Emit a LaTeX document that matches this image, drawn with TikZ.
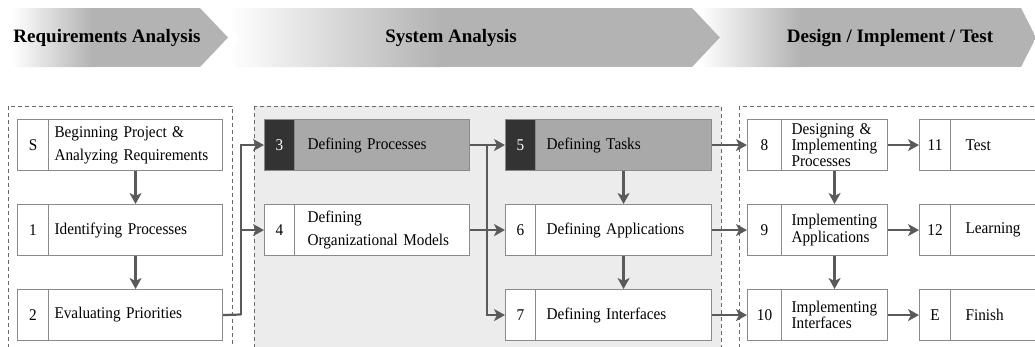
\documentclass[tikz,border=0pt]{standalone}
\usepackage{fontspec}
\setmainfont{Liberation Serif}
\newfontfamily\cellfont[FakeStretch=0.93]{Liberation Serif}
\usetikzlibrary{arrows.meta}

\definecolor{bannergray}{HTML}{B3B3B3}
\definecolor{panelgray}{HTML}{ECECEC}
\definecolor{panelline}{HTML}{6A6A6A}
\definecolor{edgegray}{HTML}{8A8A8A}
\definecolor{linkgray}{HTML}{5A5A5A}
\definecolor{hilite}{HTML}{A9A9A9}
\definecolor{darkcell}{HTML}{333333}

\tikzset{
  banner/.style={font=\fontsize{19}{22}\selectfont\bfseries, inner sep=0pt},
  panel/.style={draw=panelline, line width=1pt, dash pattern=on 4pt off 3pt},
  cell/.style={draw=edgegray, line width=1.1pt, fill=white, minimum height=51pt,
    anchor=north west, inner ysep=0pt, font=\cellfont\fontsize{16.4}{22.7}\selectfont},
  numcell/.style={cell, align=center, inner xsep=0pt, minimum width=#1},
  % text cells of the five columns
  colA/.style={cell, align=left, minimum width=174pt, text width=162pt, inner xsep=6pt},
  colB/.style={cell, align=left, minimum width=175pt, text width=149pt, inner xsep=13pt},
  colC/.style={cell, align=left, minimum width=176pt, text width=154pt, inner xsep=11pt},
  colD/.style={cell, align=left, minimum width=106pt, text width=86pt, inner xsep=10pt,
    font=\cellfont\fontsize{16.4}{16.3}\selectfont},
  colE/.style={cell, align=left, minimum width=110pt, text width=80pt, inner xsep=15pt},
  darknum/.style={fill=darkcell, text=white},
  lightbox/.style={fill=hilite},
  conn/.style={draw=linkgray, line width=2.2pt,
    -{Stealth[length=11pt,width=12pt,inset=3pt]}},
  link/.style={draw=linkgray, line width=2.2pt}
}

\begin{document}
\begin{tikzpicture}[x=1pt,y=-1pt]
\useasboundingbox (0,0) rectangle (1035,346);
\clip (0,0) rectangle (1035,346);

% ---- phase banner ----
\begin{scope}
  \clip (12,8) -- (200,8) -- (228,37.5) -- (200,67) -- (12,67) -- cycle;
  \shade[left color=white, right color=bannergray] (12,8) rectangle (92,67);
  \fill[bannergray] (91.5,8) rectangle (230,67);
\end{scope}
\begin{scope}
  \clip (212,8) -- (692,8) -- (720,37.5) -- (692,67) -- (212,67) -- (240,37.5) -- cycle;
  \shade[left color=white, right color=bannergray] (228,8) rectangle (440,67);
  \fill[bannergray] (439.5,8) rectangle (722,67);
\end{scope}
\begin{scope}
  \clip (693,8) -- (1021,8) -- (1036,37.5) -- (1021,67) -- (693,67) -- (721,37.5) -- cycle;
  \shade[left color=white, right color=bannergray] (700,8) rectangle (800,67);
  \fill[bannergray] (799.5,8) rectangle (1040,67);
\end{scope}
\node[banner] (hA) at (107,38) {Requirements Analysis};
\node[banner] (hB) at (451,38) {System Analysis};
\node[banner] (hC) at (890,38) {Design / Implement / Test};

% ---- phase panels ----
\draw[panel, fill=panelgray] (254,106) rectangle (721,400);
\draw[panel] (8,106) rectangle (232,400);
\draw[panel] (739,106) rectangle (1100,400);

% ---- column 1 ----
\node[numcell=31pt] (nS) at (17,119) {S};
\node[colA] (tS) at (48,119) {Beginning Project \&\\Analyzing Requirements};
\node[numcell=31pt] (n1) at (17,204) {1};
\node[colA] (t1) at (48,204) {Identifying Processes};
\node[numcell=31pt] (n2) at (17,289) {2};
\node[colA] (t2) at (48,289) {Evaluating Priorities};

% ---- column 2 ----
\node[numcell=30pt, darknum] (n3) at (264,119) {3};
\node[colB, lightbox] (t3) at (294,119) {Defining Processes};
\node[numcell=30pt] (n4) at (264,204) {4};
\node[colB] (t4) at (294,204) {Defining\\Organizational Models};

% ---- column 3 ----
\node[numcell=30pt, darknum] (n5) at (505,119) {5};
\node[colC, lightbox] (t5) at (535,119) {Defining Tasks};
\node[numcell=30pt] (n6) at (505,204) {6};
\node[colC] (t6) at (535,204) {Defining Applications};
\node[numcell=30pt] (n7) at (505,289) {7};
\node[colC] (t7) at (535,289) {Defining Interfaces};

% ---- column 4 ----
\node[numcell=34pt] (n8) at (747,119) {8};
\node[colD] (t8) at (781,119) {Designing \&\\Implementing\\Processes};
\node[numcell=34pt] (n9) at (747,204) {9};
\node[colD] (t9) at (781,204) {Implementing\\Applications};
\node[numcell=34pt] (n10) at (747,289) {10};
\node[colD] (t10) at (781,289) {Implementing\\Interfaces};

% ---- column 5 ----
\node[numcell=31pt] (n11) at (919,119) {11};
\node[colE] (t11) at (950,119) {Test};
\node[numcell=31pt] (n12) at (919,204) {12};
\node[colE] (t12) at (950,204) {Learning};
\node[numcell=31pt] (nE) at (919,289) {E};
\node[colE] (tE) at (950,289) {Finish};

% ---- connectors ----
\draw[conn] (tS.south) -- (t1.north);
\draw[conn] (t1.south) -- (t2.north);

\coordinate (j1) at (241,314.5);
\draw[link] (t2.east) -- (j1);
\draw[conn] (j1) |- (n3.west);
\draw[conn] (j1) |- (n4.west);

\coordinate (j2) at (487,144.5);
\draw[conn] (t3.east) -- (n5.west);
\draw[conn] (t4.east) -- (n6.west);
\draw[conn] (j2) |- (n7.west);

\draw[conn] (t5.south) -- (t6.north);
\draw[conn] (t6.south) -- (t7.north);
\draw[conn] (t5.east) -- (n8.west);
\draw[conn] (t6.east) -- (n9.west);
\draw[conn] (t7.east) -- (n10.west);

\draw[conn] (t8.south) -- (t9.north);
\draw[conn] (t9.south) -- (t10.north);
\draw[conn] (t8.east) -- (n11.west);
\draw[conn] (t9.east) -- (n12.west);
\draw[conn] (t10.east) -- (nE.west);
\end{tikzpicture}
\end{document}
